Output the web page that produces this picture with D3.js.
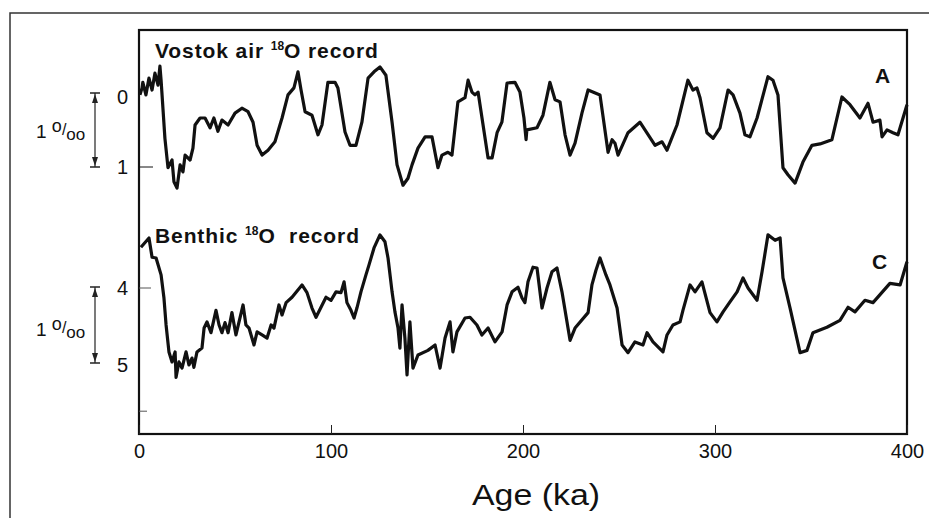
<!DOCTYPE html>
<html>
<head>
<meta charset="utf-8">
<script src="https://cdn.jsdelivr.net/npm/d3@7"></script>
<style>
  body { margin: 0; background: #fff; }
  text { font-family: "Liberation Sans", Arial, sans-serif; fill: #111; }
</style>
</head>
<body>
<svg id="chart" width="929" height="518"></svg>
<script>
// age (ka) ticks
var ageTicks = [0, 100, 200, 300, 400];

// Vostok air d18O (age ka, permil)
var vostokAge = [0.5, 1.6, 2, 3.6, 5.2, 6.8, 8.3, 9.9, 10.9, 11.5, 13.5, 15.1, 17.2, 18.2, 19.8, 21.4, 22.9, 24, 26.6, 28.1,
  29.2, 31.8, 34.4, 37, 39, 41.1, 43.2, 46.4, 50, 53.6, 56.8, 59.4, 61.5, 64.1, 67.2, 70.8, 74.5, 77.6, 80.7, 82.8,
  84.4, 86.5, 90.1, 93.2, 95.3, 98.4, 102.1, 103.6, 107.3, 109.9, 113, 116.1, 119.3, 122.4, 125.5, 128.6, 131.8, 134.4, 137.5, 140.1,
  142.2, 145.3, 149, 152.6, 155.7, 157.8, 160.9, 163, 166.1, 169.8, 171.4, 173.4, 175, 176.6, 181.8, 183.9, 186.5, 189, 191.7, 195.8,
  198.4, 200.5, 201.6, 202, 207.3, 210.4, 214, 216.7, 219.3, 221.9, 224.5, 227.1, 230.7, 233.9, 240.1, 244.3, 246.4, 247.9, 249.5, 254.7,
  260.9, 268.8, 272.4, 275, 280.2, 285.9, 288.5, 290.6, 292.2, 295.8, 299, 302.6, 306.8, 309.4, 313, 315.6, 318.2, 321.9, 327.6, 330.2,
  332.8, 335.4, 338, 341.7, 345.8, 350.5, 354.7, 360.9, 366.1, 370.3, 375.5, 379.7, 382.3, 385.9, 387, 389.6, 392.7, 395.3, 400];
var vostokVal = [-0.03, -0.13, -0.21, -0.03, -0.27, -0.1, -0.34, -0.17, -0.44, -0.24, 0.59, 1.01, 0.9, 1.21, 1.3, 0.97, 1.07, 0.83, 0.9, 0.73,
  0.4, 0.3, 0.3, 0.44, 0.3, 0.49, 0.33, 0.4, 0.23, 0.16, 0.21, 0.36, 0.69, 0.83, 0.76, 0.64, 0.3, -0.03, -0.13, -0.36,
  -0.1, 0.21, 0.26, 0.54, 0.4, -0.21, -0.21, -0.13, 0.5, 0.69, 0.69, 0.36, -0.27, -0.36, -0.43, -0.31, 0.36, 0.97, 1.26, 1.16,
  0.97, 0.73, 0.57, 0.57, 1.01, 0.83, 0.79, 0.83, 0.07, 0.01, -0.24, -0.07, -0.03, -0.07, 0.87, 0.87, 0.51, 0.36, -0.2, -0.21,
  -0.07, 0.3, 0.61, 0.47, 0.44, 0.26, -0.21, 0.04, 0.07, 0.54, 0.83, 0.66, 0.23, -0.1, -0.03, 0.79, 0.61, 0.66, 0.83, 0.51,
  0.36, 0.69, 0.64, 0.76, 0.4, -0.24, -0.1, -0.13, 0.01, 0.51, 0.59, 0.44, -0.1, -0.03, 0.23, 0.54, 0.57, 0.3, -0.29, -0.24,
  -0.03, 1.01, 1.11, 1.23, 0.93, 0.69, 0.67, 0.61, 0, 0.11, 0.3, 0.09, 0.36, 0.33, 0.57, 0.47, 0.51, 0.54, 0.11];

// Benthic d18O (age ka, permil)
var benthicAge = [1.0, 5.2, 6.8, 8.9, 11.5, 13.0, 14.1, 15.6, 17.2, 18.8, 19.3, 20.8, 22.4, 24.5, 26.0, 27.6, 28.6, 30.2, 32.8, 33.9,
  35.4, 37.5, 40.1, 41.7, 43.2, 44.8, 46.4, 48.4, 50.5, 52.1, 54.2, 55.7, 57.3, 59.9, 61.5, 64.1, 66.7, 68.8, 70.3, 72.9,
  74.5, 76.6, 79.7, 84.9, 87.5, 90.1, 92.2, 94.8, 97.4, 100, 102.6, 105.2, 106.8, 108.3, 110.4, 112.0, 113.5, 115.6, 118.2, 119.8,
  122.4, 125.5, 128.1, 129.7, 131.8, 133.3, 134.9, 135.9, 137, 138.5, 139.6, 141.1,
  142.7, 145.3, 150.5, 154.2, 156.8, 159.4, 162, 163.5, 165.6, 169.8, 172.4, 176, 178.6, 181.8, 185.4, 189.1, 191.7, 194.3, 197.4, 199.5,
  201, 202.6, 205.2, 207.3, 209.9, 212.5, 215.1, 217.7, 220.3, 224.5, 227.1, 233.9, 235.9, 238, 240.1, 243.2, 245.3, 249, 251.6, 254.7,
  258.3, 262.5, 264.6, 267.7, 272.9, 275, 278.1, 281.8, 283.3, 287, 289.6, 293.2, 297.4, 301, 304.2, 307.8, 311.5, 314.6, 317.2, 321.9,
  324.5, 327.6, 331.3, 333.9, 335.4, 339.1, 344.3, 347.9, 351, 358.3, 365.1, 369.3, 372.9, 378.1, 382.3, 391.1, 396.4, 400];
var benthicVal = [3.47, 3.35, 3.60, 3.61, 3.83, 4.13, 4.48, 4.83, 4.96, 4.83, 5.16, 4.96, 5.04, 4.83, 5.0, 4.91, 5.03, 4.83, 4.78, 4.52,
  4.44, 4.58, 4.29, 4.48, 4.58, 4.45, 4.58, 4.32, 4.61, 4.44, 4.22, 4.48, 4.52, 4.74, 4.57, 4.61, 4.65, 4.48, 4.52, 4.22,
  4.35, 4.19, 4.12, 3.96, 4.06, 4.26, 4.38, 4.25, 4.12, 4.16, 4.05, 4.06, 3.92, 4.19, 4.29, 4.39, 4.26, 4.05, 3.83, 3.70,
  3.48, 3.31, 3.4, 3.61, 4.05, 4.31, 4.52, 4.78, 4.22, 4.65, 5.13, 4.44,
  5.04, 4.87, 4.81, 4.74, 5.04, 4.65, 4.44, 4.83, 4.57, 4.39, 4.38, 4.48, 4.61, 4.52, 4.7, 4.57, 4.22, 4.05, 3.99, 4.13,
  4.19, 3.92, 3.73, 3.74, 4.26, 4.0, 3.79, 3.74, 4.05, 4.68, 4.52, 4.32, 3.96, 3.77, 3.61, 3.83, 3.96, 4.26, 4.74, 4.84,
  4.7, 4.74, 4.58, 4.7, 4.83, 4.61, 4.48, 4.44, 4.29, 3.96, 4.05, 3.92, 4.32, 4.44, 4.31, 4.18, 4.05, 3.87, 4.0, 4.16,
  3.79, 3.31, 3.38, 3.35, 3.87, 4.26, 4.84, 4.81, 4.58, 4.51, 4.42, 4.25, 4.31, 4.16, 4.19, 3.94, 3.96, 3.66];

var vostokTicks = [0, 1];
var benthicTicks = [4, 5];

var svg = d3.select("#chart");

svg.append("rect").attr("width", 929).attr("height", 518).attr("fill", "#fff");

// page frame
svg.append("path")
  .attr("d", "M10,518 L10,13 L929,13")
  .attr("fill", "none")
  .attr("stroke", "#333")
  .attr("stroke-width", 1.5);

var x = d3.scaleLinear().domain([0, 400]).range([139, 907]);
var yTop = d3.scaleLinear().domain([0, 1]).range([97, 167]);
var yBot = d3.scaleLinear().domain([4, 5]).range([288, 365]);

// plot box
svg.append("rect")
  .attr("x", 139).attr("y", 30)
  .attr("width", 768).attr("height", 404)
  .attr("fill", "none")
  .attr("stroke", "#111")
  .attr("stroke-width", 2.2);

// x axis, ticks pointing inward
var xAxis = svg.append("g")
  .attr("transform", "translate(0,434)")
  .call(d3.axisBottom(x).tickValues(ageTicks).tickSizeInner(-9).tickSizeOuter(0).tickPadding(10));
xAxis.select(".domain").remove();
xAxis.selectAll("line").attr("stroke", "#222").attr("stroke-width", 1);
xAxis.selectAll("text")
  .attr("dy", "0.71em")
  .style("font-size", "20px")
  .style("font-family", "'Liberation Sans', Arial, sans-serif")
  .attr("fill", "#111");

// left axes
function leftAxis(scale, ticks) {
  var g = svg.append("g")
    .attr("transform", "translate(139,0)")
    .call(d3.axisLeft(scale).tickValues(ticks).tickFormat(d3.format("d")).tickSize(0).tickPadding(11));
  g.select(".domain").remove();
  g.selectAll("text")
    .style("font-size", "20px")
    .style("font-family", "'Liberation Sans', Arial, sans-serif")
    .attr("fill", "#111");
  return g;
}
leftAxis(yTop, vostokTicks);
leftAxis(yBot, benthicTicks);

// small inward ticks on the left spine
svg.append("line").attr("x1", 139).attr("x2", 153).attr("y1", yTop(1)).attr("y2", yTop(1)).attr("stroke", "#111").attr("stroke-width", 1);
svg.append("line").attr("x1", 139).attr("x2", 151).attr("y1", yBot(4)).attr("y2", yBot(4)).attr("stroke", "#555").attr("stroke-width", 1);
svg.append("line").attr("x1", 139).attr("x2", 147).attr("y1", yBot(5.6)).attr("y2", yBot(5.6)).attr("stroke", "#555").attr("stroke-width", 1);

// 1 permil scale bars
function scaleBar(y0, y1, cy) {
  var bx = 95;
  svg.append("line").attr("x1", bx).attr("x2", bx).attr("y1", y0).attr("y2", y1)
    .attr("stroke", "#222").attr("stroke-width", 1.2);
  [y0, y1].forEach(function(yy) {
    svg.append("line").attr("x1", bx - 5).attr("x2", bx + 5).attr("y1", yy).attr("y2", yy)
      .attr("stroke", "#222").attr("stroke-width", 1.5);
  });
  svg.append("path")
    .attr("d", "M" + bx + "," + (y0 + 1) + " l-3,9 l6,0 z M" + bx + "," + (y1 - 1) + " l-3,-9 l6,0 z")
    .attr("fill", "#222");
  var t = svg.append("text").attr("x", 36).attr("y", cy).style("font-size", "19px");
  t.append("tspan").text("1 ");
  t.append("tspan").attr("dy", -6).style("font-size", "18px").text("o");
  t.append("tspan").attr("dy", 3).style("font-size", "16px").text("/");
  t.append("tspan").attr("dy", 5).style("font-size", "17px").text("oo");
}
scaleBar(yTop(0) - 4, yTop(1), 138);
scaleBar(yBot(4) - 1, yBot(5) - 2, 336);

// curves
var line = d3.line()
  .x(function(d) { return x(d[0]); })
  .y(function(d) { return d[2](d[1]); });

function drawSeries(ages, vals, scale) {
  var pts = ages.map(function(a, i) { return [a, vals[i], scale]; });
  svg.append("path")
    .datum(pts)
    .attr("d", line)
    .attr("fill", "none")
    .attr("stroke", "#111")
    .attr("stroke-width", 3.2)
    .attr("stroke-linejoin", "round");
}
drawSeries(vostokAge, vostokVal, yTop);
drawSeries(benthicAge, benthicVal, yBot);

// labels
var t1 = svg.append("text").attr("x", 155).attr("y", 58)
  .style("font-size", "21px").style("font-weight", "bold").style("letter-spacing", "0.9px");
t1.append("tspan").text("Vostok air ");
t1.append("tspan").attr("dy", -8).style("font-size", "12px").style("letter-spacing", "0px").text("18");
t1.append("tspan").attr("dy", 8).text("O record");

var t2 = svg.append("text").attr("x", 155).attr("y", 243)
  .style("font-size", "21px").style("font-weight", "bold").style("letter-spacing", "0.9px")
  .style("white-space", "pre");
t2.append("tspan").text("Benthic ");
t2.append("tspan").attr("dy", -8).style("font-size", "12px").style("letter-spacing", "0px").text("18");
t2.append("tspan").attr("dy", 8).text("O  record");

svg.append("text").attr("x", 875).attr("y", 83).style("font-size", "21px").style("font-weight", "bold").text("A");
svg.append("text").attr("x", 872).attr("y", 269).style("font-size", "21px").style("font-weight", "bold").text("C");

svg.append("text")
  .attr("x", 536).attr("y", 505)
  .attr("text-anchor", "middle")
  .attr("textLength", 128)
  .attr("lengthAdjust", "spacingAndGlyphs")
  .style("font-size", "30px")
  .text("Age (ka)");
</script>
</body>
</html>
